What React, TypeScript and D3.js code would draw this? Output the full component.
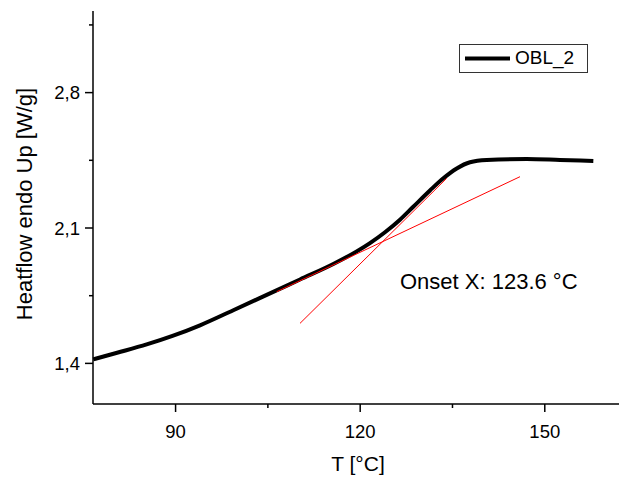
import React from "react";
import * as d3 from "d3";

const temps = [76.62, 80.5, 85.3, 89.5, 93.97, 99.38, 104.81, 110.22, 115.63, 119.43, 121.59, 124.03, 126.47, 128.63, 131.34, 133.51, 135.69, 137.85, 140.56, 147.06, 152.47, 157.89];
const heatflow = [1.421, 1.455, 1.498, 1.542, 1.597, 1.675, 1.754, 1.834, 1.914, 1.979, 2.022, 2.078, 2.143, 2.21, 2.294, 2.357, 2.408, 2.44, 2.4517, 2.457, 2.452, 2.4466];

const baselineT = [106.43, 145.97];
const baselineY = [1.7704, 2.3653];
const steepT = [110.22, 134.06];
const steepY = [1.607, 2.357];

const xMajor = [90, 120, 150];
const xMinor = [105, 135];
const yMajor = [1.4, 2.1, 2.8];
const yMinor = [1.75, 2.45, 3.15];

const seriesName = "OBL_2";
const onsetLabel = "Onset X: 123.6 °C";
const xTitle = "T [°C]";
const yTitle = "Heatflow endo Up [W/g]";

const FONT = "'Liberation Sans', Arial, Helvetica, sans-serif";

export default function App() {
  const W = 619, H = 477;
  const x = d3.scaleLinear().domain([76.58, 162.06]).range([93, 619]);
  const y = d3.scaleLinear().domain([1.19, 3.222]).range([404, 11]);
  const pts: [number, number][] = temps.map((t, i) => [t, heatflow[i]]);
  const line = d3.line<[number, number]>().x(d => x(d[0])).y(d => y(d[1])).curve(d3.curveMonotoneX);
  const fmt = (v: number) => v.toFixed(1).replace(".", ",");
  const x0 = 93, yB = 404;
  return (
    <svg width={W} height={H} style={{ position: "absolute", left: 0, top: 0, background: "#fff" }} fontFamily={FONT}>
      <rect width={W} height={H} fill="#fff" />
      {/* curve */}
      <path d={line(pts) || ""} fill="none" stroke="#000" strokeWidth={4} strokeLinejoin="round" />
      {/* tangents */}
      <line x1={x(baselineT[0])} y1={y(baselineY[0])} x2={x(baselineT[1])} y2={y(baselineY[1])} stroke="#ff0000" strokeWidth={1} />
      <line x1={x(steepT[0])} y1={y(steepY[0])} x2={x(steepT[1])} y2={y(steepY[1])} stroke="#ff0000" strokeWidth={1} />
      {/* axes */}
      <line x1={x0} y1={11} x2={x0} y2={yB} stroke="#000" strokeWidth={1.5} />
      <line x1={x0} y1={yB} x2={619} y2={yB} stroke="#000" strokeWidth={1.5} />
      {yMajor.map(v => (
        <g key={"ym" + v}>
          <line x1={85} x2={x0} y1={y(v)} y2={y(v)} stroke="#000" strokeWidth={1.5} />
          <text x={80} y={y(v)} dy="0.36em" textAnchor="end" fontSize={18.5}>{fmt(v)}</text>
        </g>
      ))}
      {yMinor.map(v => (
        <line key={"yn" + v} x1={89} x2={x0} y1={y(v)} y2={y(v)} stroke="#000" strokeWidth={1.5} />
      ))}
      {xMajor.map(v => (
        <g key={"xm" + v}>
          <line x1={x(v)} x2={x(v)} y1={yB} y2={412} stroke="#000" strokeWidth={1.5} />
          <text x={x(v)} y={438} textAnchor="middle" fontSize={18.5}>{v}</text>
        </g>
      ))}
      {xMinor.map(v => (
        <line key={"xn" + v} x1={x(v)} x2={x(v)} y1={yB} y2={408} stroke="#000" strokeWidth={1.5} />
      ))}
      {/* titles */}
      <text x={358} y={471} textAnchor="middle" fontSize={21}>{xTitle}</text>
      <text transform={`translate(32,204) rotate(-90)`} textAnchor="middle" fontSize={22}>{yTitle}</text>
      {/* onset label */}
      <text x={400} y={289} fontSize={22}>{onsetLabel}</text>
      {/* legend */}
      <rect x={459.5} y={44.5} width={128} height={28} fill="#fff" stroke="#333" strokeWidth={1} />
      <line x1={465} x2={510} y1={58.5} y2={58.5} stroke="#000" strokeWidth={4} />
      <text x={515} y={64} fontSize={19}>{seriesName}</text>
    </svg>
  );
}
